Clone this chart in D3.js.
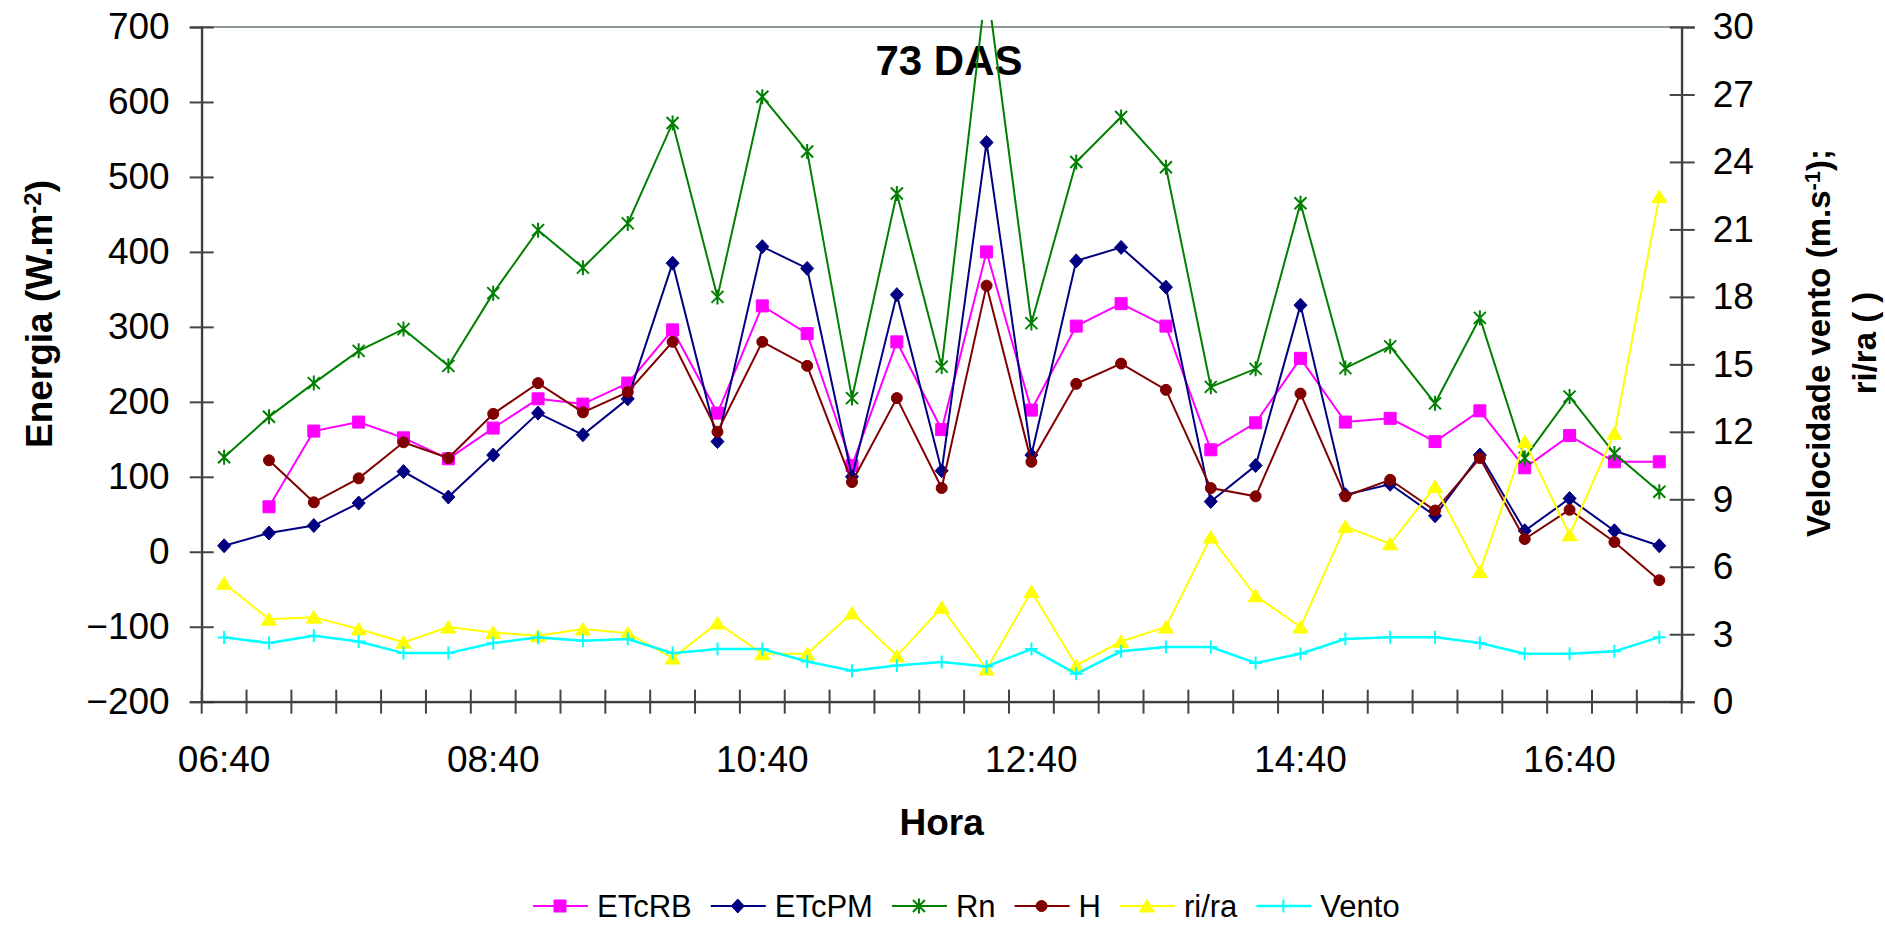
<!DOCTYPE html>
<html>
<head>
<meta charset="utf-8">
<script src="https://cdn.jsdelivr.net/npm/d3@7"></script>
<style>
  body { margin: 0; background: #fff; }
  svg { display: block; font-family: 'Liberation Sans', Arial, sans-serif; }
</style>
</head>
<body>
<div id="chart"></div>
<script>
'use strict';

// categories (every 20 minutes)
var HOURS = ['06:40', '07:00', '07:20', '07:40', '08:00', '08:20', '08:40', '09:00', '09:20', '09:40',
  '10:00', '10:20', '10:40', '11:00', '11:20', '11:40', '12:00', '12:20', '12:40', '13:00',
  '13:20', '13:40', '14:00', '14:20', '14:40', '15:00', '15:20', '15:40', '16:00', '16:20',
  '16:40', '17:00', '17:20'];
var HOUR_LABELS = ['06:40', '08:40', '10:40', '12:40', '14:40', '16:40'];

// left axis series (W.m-2)
var etcRB = [null, 60, 161, 173, 152, 124, 165, 204, 197, 225, 296, 185, 328, 291, 115, 280, 163,
  400, 189, 301, 331, 301, 136, 172, 258, 173, 178, 147, 188, 112, 155, 120, 120];
var etcPM = [8, 25, 35, 65, 107, 73, 129, 185, 156, 204, 385, 147, 407, 378, 100, 343, 108,
  546, 129, 388, 406, 353, 67, 115, 329, 76, 90, 48, 129, 28, 71, 28, 8];
var rn = [126, 180, 225, 268, 297, 248, 345, 429, 379, 438, 572, 340, 607, 534, 205, 478, 247,
  760, 305, 520, 580, 513, 220, 244, 465, 245, 274, 198, 312, 125, 207, 131, 80];
var h = [null, 122, 66, 98, 146, 125, 184, 225, 186, 213, 280, 160, 280, 248, 93, 205, 85,
  355, 120, 224, 251, 216, 85, 74, 211, 74, 96, 55, 125, 17, 56, 13, -38];

// right axis series
var riRa = [5.27, 3.67, 3.76, 3.23, 2.64, 3.32, 3.08, 2.93, 3.23, 3.05, 1.94, 3.50, 2.13, 2.13, 3.94, 2.04, 4.19,
  1.45, 4.90, 1.61, 2.68, 3.32, 7.32, 4.71, 3.32, 7.79, 7.02, 9.57, 5.79, 11.57, 7.42, 11.94, 22.46];
var vento = [2.86, 2.61, 2.93, 2.68, 2.16, 2.16, 2.61, 2.86, 2.71, 2.79, 2.16, 2.34, 2.34, 1.79, 1.38, 1.61, 1.76,
  1.57, 2.34, 1.24, 2.24, 2.43, 2.43, 1.72, 2.13, 2.79, 2.87, 2.87, 2.61, 2.13, 2.13, 2.24, 2.87];

var LEFT_TICKS = [-200, -100, 0, 100, 200, 300, 400, 500, 600, 700];
var RIGHT_TICKS = [0, 3, 6, 9, 12, 15, 18, 21, 24, 27, 30];

// Constants for displaying. Unit is pixel.
var WIDTH = 1885;
var HEIGHT = 926;
var PLOT = { left: 201.7, right: 1681.7, top: 27, bottom: 701.7 };
var TICK_FONT = 37;

var SERIES = [
  { name: 'ETcRB', values: etcRB, axis: 'left', color: '#FF00FF', marker: 'square' },
  { name: 'ETcPM', values: etcPM, axis: 'left', color: '#000080', marker: 'diamond' },
  { name: 'Rn', values: rn, axis: 'left', color: '#008000', marker: 'star' },
  { name: 'H', values: h, axis: 'left', color: '#800000', marker: 'circle' },
  { name: 'ri/ra', values: riRa, axis: 'right', color: '#FFFF00', marker: 'triangle' },
  { name: 'Vento', values: vento, axis: 'right', color: '#00FFFF', marker: 'plus' }
];

var MARKER_PATH = {
  square: 'M-6,-6h12v12h-12Z',
  diamond: 'M0,-7L6.5,0L0,7L-6.5,0Z',
  triangle: 'M0,-6.5L7.5,6L-7.5,6Z',
  star: 'M-6,-6L6,6M-6,6L6,-6M0,-7.5V7.5',
  plus: 'M-6.5,0H6.5M0,-6.5V6.5'
};

var svg = d3.select('#chart').append('svg')
  .attr('width', WIDTH)
  .attr('height', HEIGHT);

var x = d3.scaleBand()
  .domain(HOURS)
  .range([PLOT.left, PLOT.right])
  .padding(0);
var yLeft = d3.scaleLinear().domain([-200, 700]).range([PLOT.bottom, PLOT.top]);
var yRight = d3.scaleLinear().domain([0, 30]).range([PLOT.bottom, PLOT.top]);

function cx(i) { return x(HOURS[i]) + x.bandwidth() / 2; }

svg.append('defs').append('clipPath')
  .attr('id', 'plotClip')
  .append('rect')
  .attr('x', PLOT.left)
  .attr('y', PLOT.top - 7)
  .attr('width', PLOT.right - PLOT.left)
  .attr('height', PLOT.bottom - PLOT.top + 14);

// plot area frame (gray), axes are drawn over it
svg.append('rect')
  .attr('x', PLOT.left)
  .attr('y', PLOT.top)
  .attr('width', PLOT.right - PLOT.left)
  .attr('height', PLOT.bottom - PLOT.top)
  .style('fill', 'none')
  .style('stroke', '#8c9898')
  .style('stroke-width', 2);

// left axis
var leftAxis = svg.append('g')
  .attr('transform', 'translate(' + PLOT.left + ',0)')
  .call(d3.axisLeft(yLeft).tickValues(LEFT_TICKS).tickSize(12).tickPadding(20));
leftAxis.selectAll('.tick line').attr('x1', 12);

// right axis
var rightAxis = svg.append('g')
  .attr('transform', 'translate(' + PLOT.right + ',0)')
  .call(d3.axisRight(yRight).tickValues(RIGHT_TICKS).tickSize(13).tickPadding(18));
rightAxis.selectAll('.tick line').attr('x1', -12);

// bottom axis: labels every 2 h, tick marks between categories
var bottomAxis = svg.append('g')
  .attr('transform', 'translate(0,' + PLOT.bottom + ')')
  .call(d3.axisBottom(x).tickValues(HOUR_LABELS).tickSize(0).tickPadding(44));
var bounds = HOURS.map(function(d) { return x(d); }).concat([x.range()[1]]);
bottomAxis.selectAll('line.sep')
  .data(bounds)
  .enter()
  .append('line')
  .classed('sep', true)
  .attr('x1', function(d) { return d; })
  .attr('x2', function(d) { return d; })
  .attr('y1', -12)
  .attr('y2', 12);

[leftAxis, rightAxis, bottomAxis].forEach(function(g) {
  g.select('.domain').style('stroke', '#333').style('stroke-width', 2);
  g.selectAll('line').style('stroke', '#444').style('stroke-width', 2);
  g.selectAll('text')
    .style('font-family', "'Liberation Sans', Arial, sans-serif")
    .style('font-size', TICK_FONT + 'px')
    .style('fill', '#000');
});
bottomAxis.selectAll('.tick text').attr('dy', '0.71em');

// title
svg.append('text')
  .attr('x', 949)
  .attr('y', 75)
  .attr('text-anchor', 'middle')
  .style('font-size', '42px')
  .style('font-weight', 'bold')
  .text('73 DAS');

// x title
svg.append('text')
  .attr('x', (PLOT.left + PLOT.right) / 2)
  .attr('y', 835)
  .attr('text-anchor', 'middle')
  .style('font-size', '37px')
  .style('font-weight', 'bold')
  .text('Hora');

// left title
var leftTitle = svg.append('text')
  .attr('transform', 'translate(52,314) rotate(-90)')
  .attr('text-anchor', 'middle')
  .style('font-size', '37px')
  .style('font-weight', 'bold');
leftTitle.append('tspan').text('Energia (W.m');
leftTitle.append('tspan').attr('dy', '-0.45em').style('font-size', '24px').text('-2');
leftTitle.append('tspan').attr('dy', '0.3em').text(')');

// right title, two lines
var rightTitle = svg.append('text')
  .attr('transform', 'translate(1830,343) rotate(-90)')
  .attr('text-anchor', 'middle')
  .style('font-size', '33px')
  .style('font-weight', 'bold');
rightTitle.append('tspan').text('Velocidade vento (m.s');
rightTitle.append('tspan').attr('dy', '-0.45em').style('font-size', '22px').text('-1');
rightTitle.append('tspan').attr('dy', '0.3em').text(');');
svg.append('text')
  .attr('transform', 'translate(1876,343) rotate(-90)')
  .attr('text-anchor', 'middle')
  .style('font-size', '33px')
  .style('font-weight', 'bold')
  .text('ri/ra ( )');

function drawMarker(sel, s) {
  if (s.marker == 'circle') {
    sel.append('circle').attr('r', 5.5).style('fill', s.color).style('stroke', s.color);
  } else if (s.marker == 'star' || s.marker == 'plus') {
    sel.append('path').attr('d', MARKER_PATH[s.marker])
      .style('fill', 'none').style('stroke', s.color).style('stroke-width', 2);
  } else {
    sel.append('path').attr('d', MARKER_PATH[s.marker]).style('fill', s.color).style('stroke', s.color);
  }
}

// series
var plot = svg.append('g').attr('clip-path', 'url(#plotClip)');
SERIES.forEach(function(s) {
  var y = s.axis == 'left' ? yLeft : yRight;
  var line = d3.line()
    .defined(function(d) { return d != null; })
    .x(function(d, i) { return cx(i); })
    .y(function(d) { return y(d); });

  plot.append('path')
    .datum(s.values)
    .attr('d', line)
    .style('fill', 'none')
    .style('stroke', s.color)
    .style('stroke-width', s.name == 'Vento' ? 2.5 : 2);

  var pts = s.values
    .map(function(d, i) { return { v: d, i: i }; })
    .filter(function(d) { return d.v != null; });

  plot.selectAll('g.m-' + s.marker)
    .data(pts)
    .enter()
    .append('g')
    .attr('class', 'm-' + s.marker)
    .attr('transform', function(d) { return 'translate(' + cx(d.i) + ',' + y(d.v) + ')'; })
    .each(function() { drawMarker(d3.select(this), s); });
});

// legend
var legend = svg.append('g').attr('transform', 'translate(533,906)');
var lx = 0;
SERIES.forEach(function(s) {
  var item = legend.append('g').attr('transform', 'translate(' + lx + ',0)');
  item.append('line')
    .attr('x1', 0).attr('x2', 55)
    .style('stroke', s.color)
    .style('stroke-width', s.name == 'Vento' ? 2.5 : 2);
  drawMarker(item.append('g').attr('transform', 'translate(27,0)'), s);
  var t = item.append('text')
    .attr('x', 64)
    .attr('dy', '0.36em')
    .style('font-size', '31px')
    .text(s.name);
  lx += 64 + t.node().getComputedTextLength() + 19;
});
</script>
</body>
</html>
